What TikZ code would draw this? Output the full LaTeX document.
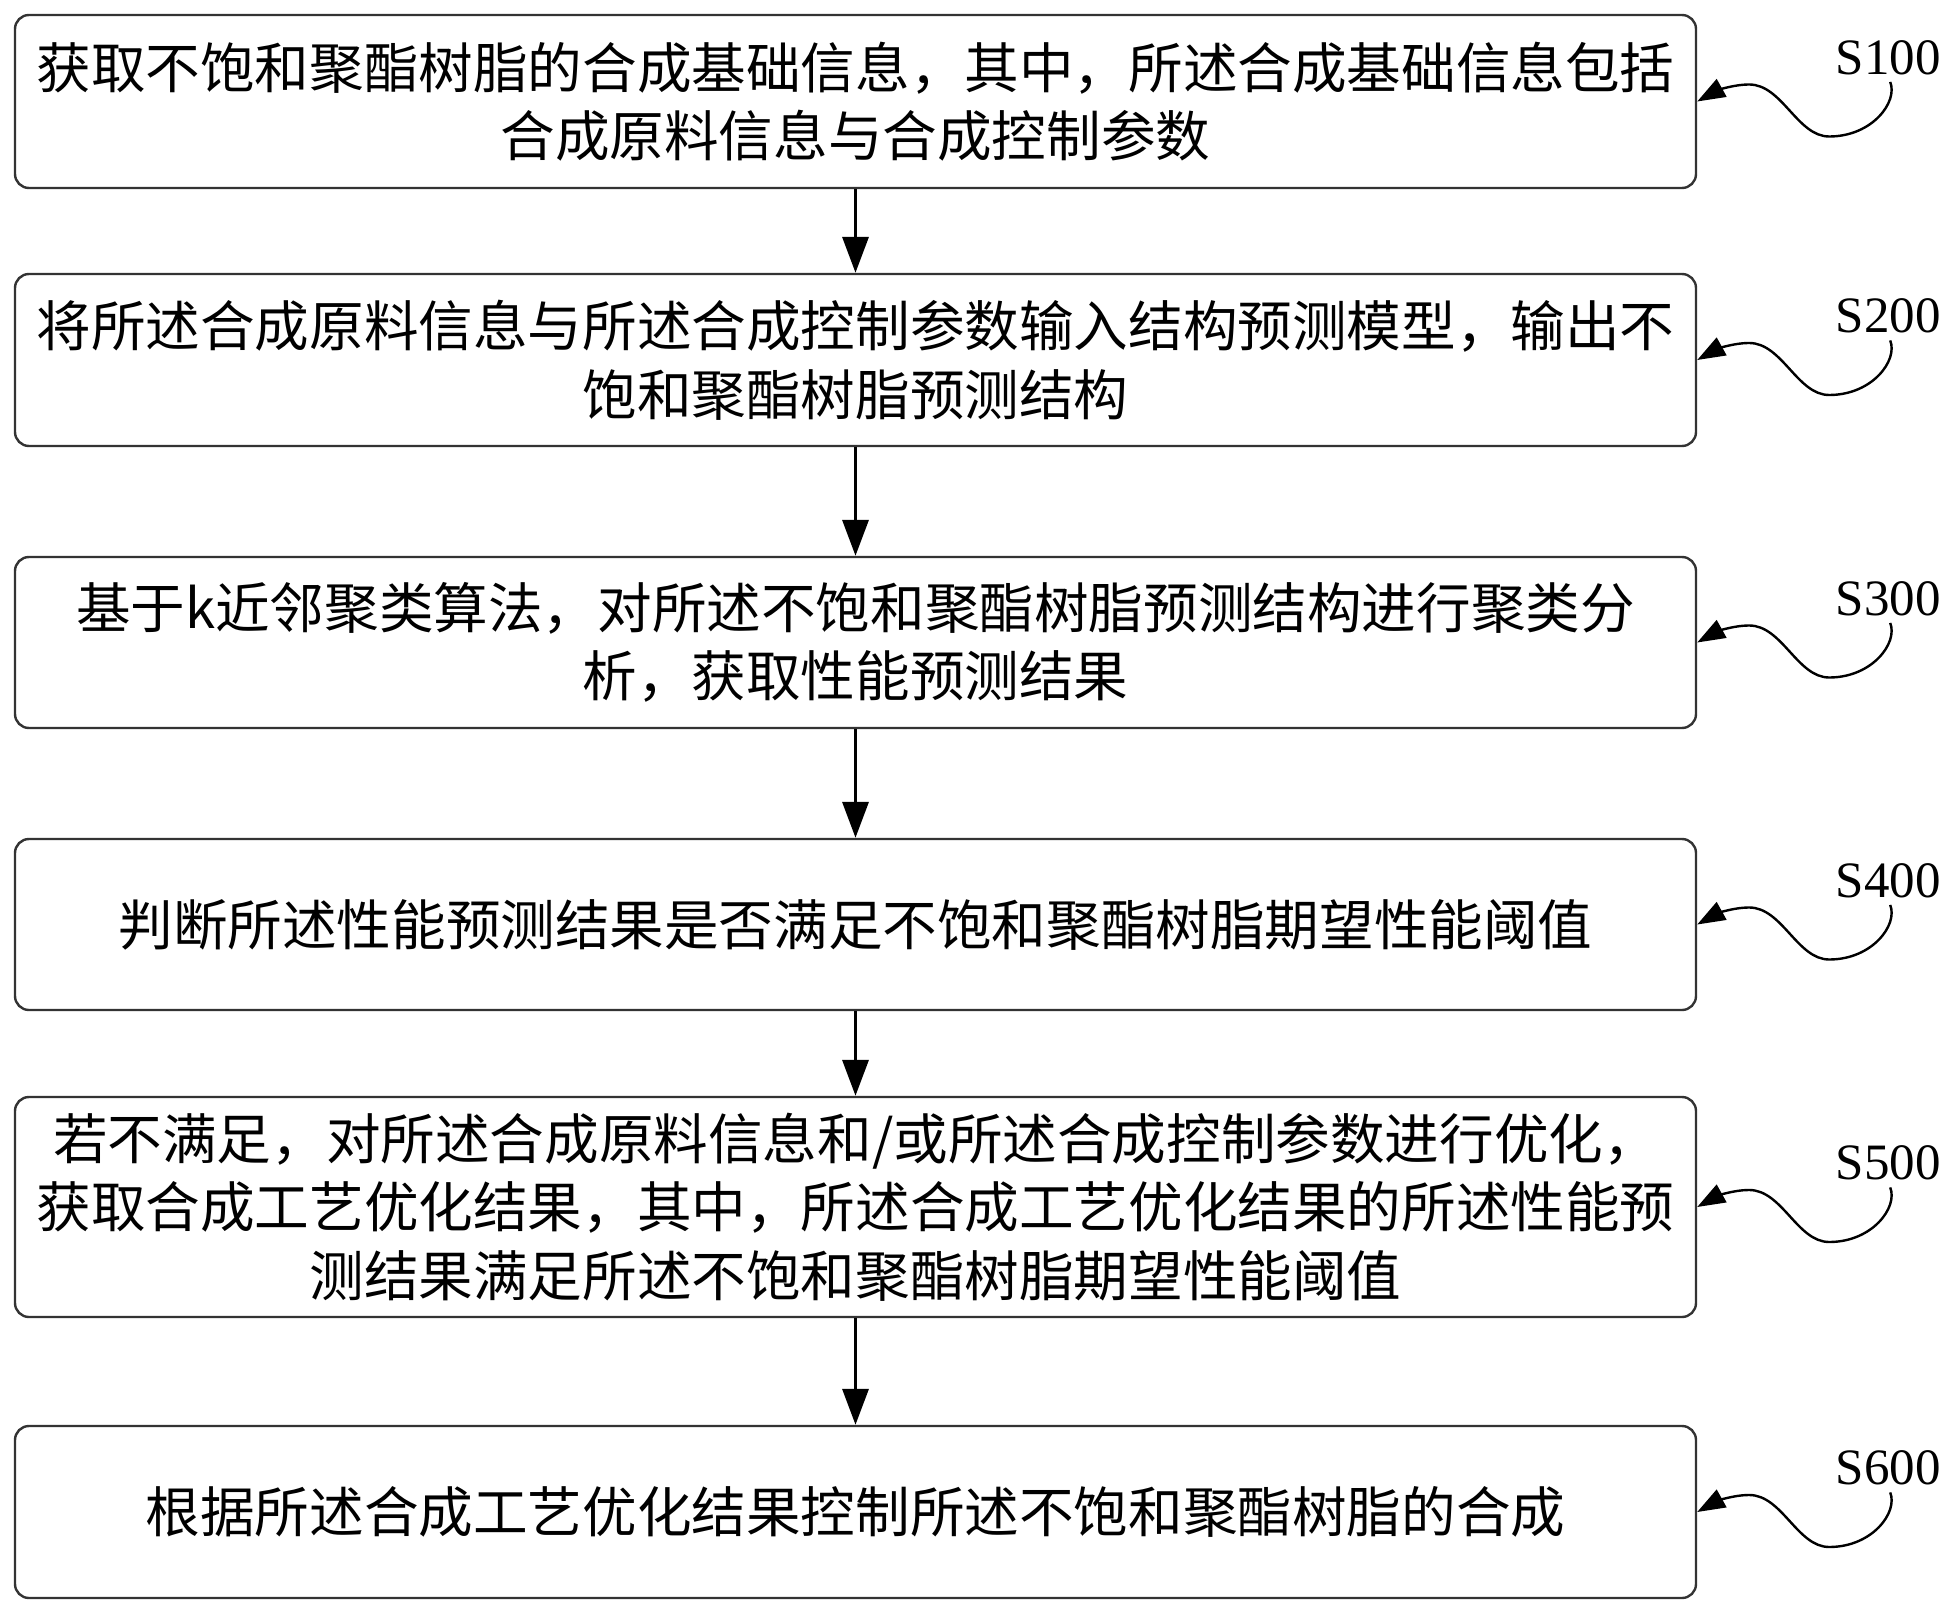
\documentclass[tikz,border=0pt]{standalone}
\usepackage{fontspec}
\setmainfont{Noto Sans CJK SC}
\newfontfamily\labelfont{Liberation Serif}
\usetikzlibrary{arrows.meta,calc}
\begin{document}
\begin{tikzpicture}[x=1pt,y=-1pt,
  box/.style={draw=black!80, line width=2.4pt, rounded corners=14pt, minimum width=1681pt, inner sep=0pt, align=center, font=\fontsize{54.6}{68.6}\selectfont},
  flow/.style={-{Triangle[length=36pt,width=26pt]}, line width=3.5pt},
  steplabel/.style={font=\labelfont\fontsize{51}{51}\selectfont, inner sep=0pt},
  squig/.style={-{Triangle[length=28pt,width=20pt]}, line width=2.4pt}]
\useasboundingbox (0,0) rectangle (1955,1613);
\node[box, minimum height=173pt] (b1) at (855.5,101.5) {获取不饱和聚酯树脂的合成基础信息，其中，所述合成基础信息包括\\合成原料信息与合成控制参数};
\node[box, minimum height=172pt] (b2) at (855.5,360) {将所述合成原料信息与所述合成控制参数输入结构预测模型，输出不\\饱和聚酯树脂预测结构};
\node[box, minimum height=171pt] (b3) at (855.5,642.5) {基于k近邻聚类算法，对所述不饱和聚酯树脂预测结构进行聚类分\\析，获取性能预测结果};
\node[box, minimum height=171pt] (b4) at (855.5,924.5) {判断所述性能预测结果是否满足不饱和聚酯树脂期望性能阈值};
\node[box, minimum height=220pt] (b5) at (855.5,1207) {若不满足，对所述合成原料信息和/或所述合成控制参数进行优化，\\获取合成工艺优化结果，其中，所述合成工艺优化结果的所述性能预\\测结果满足所述不饱和聚酯树脂期望性能阈值};
\node[box, minimum height=172pt] (b6) at (855.5,1512) {根据所述合成工艺优化结果控制所述不饱和聚酯树脂的合成};
\draw[flow] (b1.south) -- (b2.north);
\draw[flow] (b2.south) -- (b3.north);
\draw[flow] (b3.south) -- (b4.north);
\draw[flow] (b4.south) -- (b5.north);
\draw[flow] (b5.south) -- (b6.north);
\foreach \i in {1,...,6} {
  \node[steplabel] (l\i) at ($(b\i.east)+(191,-44)$) {S\i00};
  \draw[squig] ($(l\i.south)+(2,7)$) .. controls +(8,20) and +(43,0) .. ($(b\i.east)+(132,35)$)
     .. controls +(-32,0) and +(33,0) .. ($(b\i.east)+(52,-17)$)
     .. controls +(-17,0) and +(18,-10) .. (b\i.east);
}
\end{tikzpicture}
\end{document}
